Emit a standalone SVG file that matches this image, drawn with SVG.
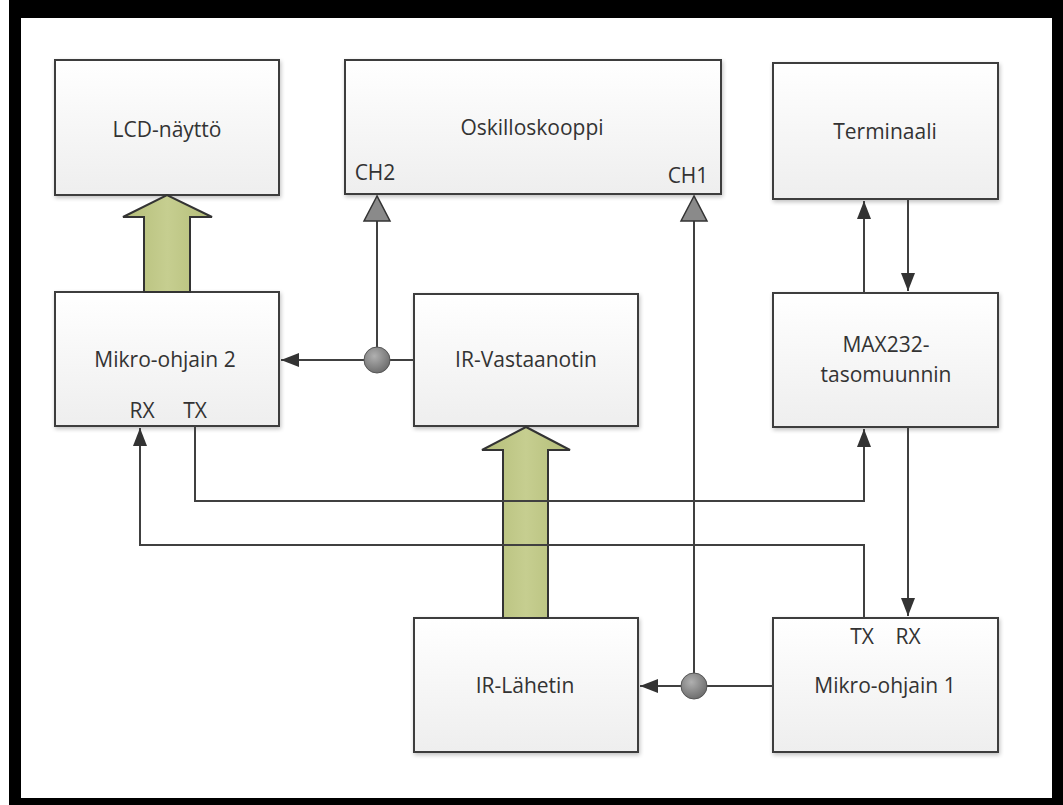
<svg xmlns="http://www.w3.org/2000/svg" width="1063" height="805" viewBox="0 0 1063 805">
<style>
.box{fill:url(#boxg);stroke:#3c3c3c;stroke-width:2}
.lbl{font-family:"Open Sans","Noto Sans",sans-serif;font-size:21px;fill:#333;text-anchor:middle}
.pin{font-family:"Open Sans","Noto Sans",sans-serif;font-size:21px;fill:#333;text-anchor:middle}
.wire{fill:none;stroke:#404040;stroke-width:2}
.big{fill:url(#greeng);stroke:#333;stroke-width:2;stroke-linejoin:miter}
.probe{fill:#8a8a8a;stroke:#333;stroke-width:1.5}
.dot{fill:url(#dotg);stroke:#555;stroke-width:1}
</style>
<defs>
<linearGradient id="boxg" x1="0" y1="0" x2="0" y2="1">
<stop offset="0" stop-color="#ffffff"/>
<stop offset="1" stop-color="#eeeeee"/>
</linearGradient>
<linearGradient id="greeng" x1="0" y1="0" x2="1" y2="0">
<stop offset="0" stop-color="#b4bd78"/>
<stop offset="0.5" stop-color="#c6ce90"/>
<stop offset="1" stop-color="#b4bd78"/>
</linearGradient>
<radialGradient id="dotg" cx="0.4" cy="0.35" r="0.7">
<stop offset="0" stop-color="#b0b0b0"/>
<stop offset="1" stop-color="#6a6a6a"/>
</radialGradient>
<filter id="sh" x="-10%" y="-10%" width="120%" height="125%">
<feGaussianBlur in="SourceAlpha" stdDeviation="2"/>
<feOffset dx="1" dy="2" result="b"/>
<feComponentTransfer><feFuncA type="linear" slope="0.25"/></feComponentTransfer>
<feMerge><feMergeNode/><feMergeNode in="SourceGraphic"/></feMerge>
</filter>
<marker id="ah" markerWidth="18" markerHeight="14" refX="18" refY="7" orient="auto" markerUnits="userSpaceOnUse">
<path d="M0,0 L18,7 L0,14 z" fill="#333"/>
</marker>
</defs>
<rect x="0" y="0" width="1063" height="805" fill="#ffffff"/>
<rect x="9" y="0" width="1054" height="805" fill="#000000"/>
<rect x="21" y="18" width="1031" height="780" fill="#ffffff"/>

<g id="lcd">
<rect class="box" x="55" y="60" width="224" height="135" filter="url(#sh)"/>
<text class="lbl" x="167" y="137">LCD-näyttö</text>
</g>
<g id="oskilloskooppi">
<rect class="box" x="345" y="60" width="376" height="134" filter="url(#sh)"/>
<text class="lbl" x="532" y="135">Oskilloskooppi</text>
<text class="pin" x="375" y="180">CH2</text>
<text class="pin" x="688" y="183">CH1</text>
</g>
<g id="terminaali">
<rect class="box" x="773" y="63" width="225" height="136" filter="url(#sh)"/>
<text class="lbl" x="885" y="139">Terminaali</text>
</g>
<g id="mikro2">
<rect class="box" x="55" y="292" width="224" height="134" filter="url(#sh)"/>
<text class="lbl" x="165" y="367">Mikro-ohjain 2</text>
<text class="pin" x="142" y="418">RX</text>
<text class="pin" x="195" y="418">TX</text>
</g>
<g id="irvastaanotin">
<rect class="box" x="414" y="294" width="224" height="132" filter="url(#sh)"/>
<text class="lbl" x="526" y="367">IR-Vastaanotin</text>
</g>
<g id="max232">
<rect class="box" x="773" y="293" width="225" height="134" filter="url(#sh)"/>
<text class="lbl" x="886" y="352">MAX232-</text>
<text class="lbl" x="886" y="382">tasomuunnin</text>
</g>
<g id="irlahetin">
<rect class="box" x="414" y="618" width="224" height="134" filter="url(#sh)"/>
<text class="lbl" x="525" y="693">IR-Lähetin</text>
</g>
<g id="mikro1">
<rect class="box" x="773" y="618" width="225" height="134" filter="url(#sh)"/>
<text class="lbl" x="885" y="693">Mikro-ohjain 1</text>
<text class="pin" x="862" y="644">TX</text>
<text class="pin" x="908" y="644">RX</text>
</g>

<g id="connectors">
<path class="big" d="M144,292 L144,217 L123,217 L167,195 L212,217 L190,217 L190,292 z"/>
<path class="big" d="M503,618 L503,450 L482,450 L526,427 L570,450 L548,450 L548,618 z"/>
<path class="wire" d="M377,360 L377,221"/>
<path class="probe" d="M377,196 L364,221 L390,221 z"/>
<path class="wire" d="M694,686 L694,221"/>
<path class="probe" d="M694,196 L681,221 L707,221 z"/>
<path class="wire" d="M414,360 L281,360" marker-end="url(#ah)"/>
<path class="wire" d="M773,686 L640,686" marker-end="url(#ah)"/>
<path class="wire" d="M864,293 L864,201" marker-end="url(#ah)"/>
<path class="wire" d="M908,199 L908,291" marker-end="url(#ah)"/>
<path class="wire" d="M908,427 L908,616" marker-end="url(#ah)"/>
<path class="wire" d="M195,426 L195,501 L864,501 L864,429" marker-end="url(#ah)"/>
<path class="wire" d="M864,618 L864,545 L140,545 L140,428" marker-end="url(#ah)"/>
<circle class="dot" cx="377" cy="360" r="13"/>
<circle class="dot" cx="694" cy="686" r="13"/>
</g>
</svg>
